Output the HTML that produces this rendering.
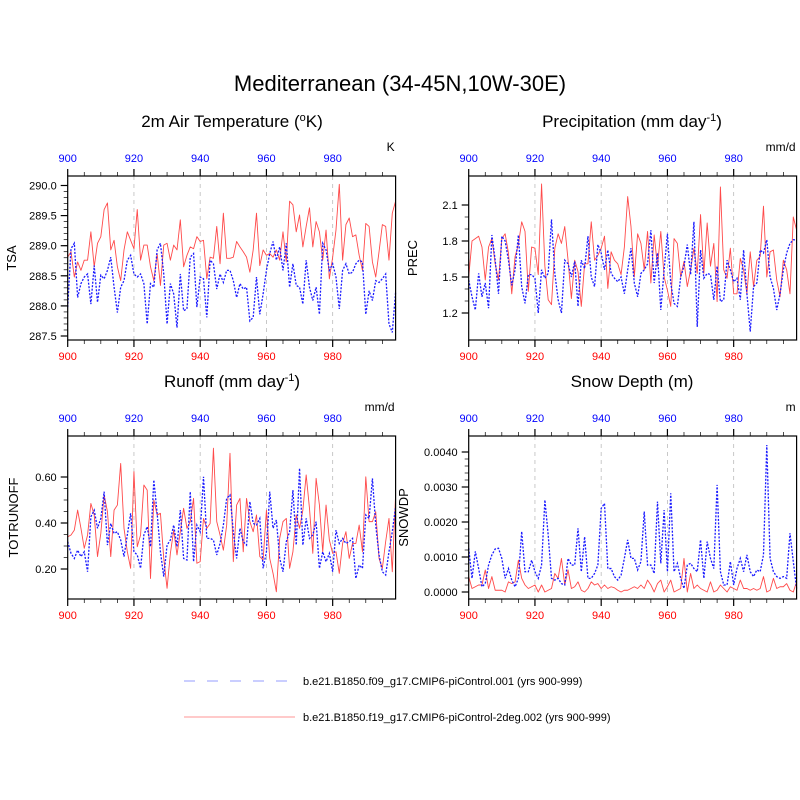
<!DOCTYPE html>
<html><head><meta charset="utf-8">
<style>
html,body{margin:0;padding:0;background:#fff;}
svg{display:block;font-family:"Liberation Sans",sans-serif;}
</style></head>
<body>
<svg id="chart" width="800" height="800" viewBox="0 0 800 800">
<rect width="800" height="800" fill="#fff"/>
<text x="400" y="91" font-size="22" text-anchor="middle">Mediterranean (34-45N,10W-30E)</text>
<text x="232" y="127" font-size="17" text-anchor="middle">2m Air Temperature (<tspan baseline-shift="super" font-size="11">o</tspan>K)</text>
<text x="632" y="127" font-size="17" text-anchor="middle">Precipitation (mm day<tspan baseline-shift="super" font-size="11">-1</tspan>)</text>
<text x="232" y="387" font-size="17" text-anchor="middle">Runoff (mm day<tspan baseline-shift="super" font-size="11">-1</tspan>)</text>
<text x="632" y="387" font-size="17" text-anchor="middle">Snow Depth (m)</text>
<g>
<line x1="184" y1="681" x2="292" y2="681" stroke="#aab0ff" stroke-width="1.3" stroke-dasharray="11,12"/>
<text x="303" y="685" font-size="11">b.e21.B1850.f09_g17.CMIP6-piControl.001 (yrs 900-999)</text>
<line x1="184" y1="717" x2="295" y2="717" stroke="#ffaaaa" stroke-width="1.3"/>
<text x="303" y="721" font-size="11">b.e21.B1850.f19_g17.CMIP6-piControl-2deg.002 (yrs 900-999)</text>
</g>
</svg>
<script>
const years = Array.from({length:100},(_, i)=>900+i);
const xTicks = [900,920,940,960,980];
const tsaRed = [288.81,288.90,288.48,288.73,288.59,288.76,288.76,289.23,288.65,289.04,
289.15,289.60,289.71,288.93,289.09,288.65,288.42,288.93,289.23,289.09,
288.95,289.60,288.76,289.01,289.01,288.65,288.42,288.87,288.34,289.01,
289.04,288.76,289.01,288.93,289.43,288.65,288.84,288.98,288.95,289.15,
289.07,289.09,288.45,288.81,288.79,289.32,288.70,289.54,288.79,288.79,
288.81,289.07,288.98,288.90,288.81,288.56,288.93,289.54,288.67,288.93,
288.84,288.87,288.81,288.93,288.76,289.23,288.73,289.74,289.68,289.23,
289.51,288.98,289.32,289.63,288.98,289.40,289.23,288.76,289.26,288.45,
288.81,289.26,290.02,288.76,289.35,289.46,289.15,289.18,288.84,288.59,
289.37,289.32,288.73,288.48,288.90,289.35,289.32,288.76,289.54,289.74];
const tsaBlue = [287.98,288.95,289.04,288.14,288.37,288.48,288.53,288.03,288.67,288.06,
288.51,288.45,288.59,288.81,288.31,287.89,288.31,288.42,288.76,288.84,
288.53,288.48,288.53,288.37,287.70,288.37,288.31,288.93,289.04,288.53,
287.70,288.37,288.20,287.64,288.53,287.92,287.95,288.81,288.87,287.98,
288.48,288.45,287.81,288.76,288.70,288.28,288.53,288.39,288.59,288.59,
288.42,288.14,288.37,288.28,288.31,287.75,287.81,288.48,287.86,288.20,
288.59,288.87,289.07,288.76,288.98,288.59,289.04,288.31,288.70,288.34,
288.31,288.03,288.76,288.31,288.09,288.31,287.86,289.04,288.93,288.59,
288.70,288.48,287.95,288.59,288.70,288.53,288.56,288.70,288.76,288.73,
287.86,288.25,288.09,288.42,288.39,288.45,288.53,287.70,287.56,288.23];
const tsaTicks = ["287.5","288.0","288.5","289.0","289.5","290.0"];
const precRed = [1.50,1.80,1.82,1.84,1.75,1.475,1.75,1.82,1.61,1.475,
1.82,1.86,1.70,1.36,1.67,1.77,1.96,1.88,1.38,1.75,
1.74,1.52,2.275,1.59,1.31,1.27,1.74,1.86,1.78,1.92,
1.64,1.32,1.64,1.545,1.255,1.61,1.61,1.96,1.64,1.68,
1.74,1.84,1.405,1.71,1.64,1.61,1.52,1.75,2.17,1.92,
1.50,1.86,1.78,1.56,1.88,1.45,1.85,1.59,1.88,1.50,
1.39,1.255,1.82,1.78,1.50,1.63,1.42,1.56,1.74,1.53,
2.02,1.53,1.95,1.59,1.78,1.295,2.25,1.56,1.49,1.74,
1.36,1.36,1.655,1.56,1.36,1.71,1.42,1.64,1.67,2.09,
1.50,1.71,1.725,1.475,1.335,1.64,1.56,1.36,2.00,1.89];
const precBlue = [1.475,1.335,1.225,1.53,1.335,1.45,1.24,1.85,1.64,1.36,
1.84,1.80,1.64,1.43,1.56,1.85,1.42,1.28,1.52,1.52,
1.49,1.20,1.56,1.49,1.53,1.98,1.53,1.31,1.20,1.64,
1.61,1.50,1.63,1.255,1.64,1.57,1.84,1.50,1.42,1.77,
1.70,1.56,1.725,1.53,1.49,1.46,1.50,1.36,1.56,1.74,
1.45,1.335,1.53,1.56,1.61,1.89,1.45,1.70,1.225,1.56,
1.86,1.45,1.28,1.255,1.50,1.59,1.77,1.52,1.96,1.085,
1.725,1.49,1.53,1.52,1.31,1.59,1.295,1.31,1.64,1.56,
1.46,1.49,1.31,1.725,1.36,1.045,1.42,1.45,1.725,1.70,
1.81,1.50,1.405,1.225,1.36,1.56,1.70,1.78,1.81,1.81];
const precTicks = ["1.2","1.5","1.8","2.1"];
const runRed = [0.340,0.348,0.369,0.456,0.377,0.290,0.348,0.485,0.435,0.254,
0.355,0.522,0.449,0.254,0.456,0.478,0.659,0.377,0.275,0.203,
0.623,0.297,0.348,0.565,0.543,0.159,0.500,0.435,0.442,0.246,
0.116,0.268,0.369,0.261,0.362,0.464,0.377,0.406,0.507,0.225,
0.232,0.420,0.377,0.398,0.725,0.406,0.348,0.282,0.391,0.703,
0.232,0.478,0.507,0.275,0.507,0.406,0.362,0.435,0.254,0.239,
0.456,0.246,0.181,0.101,0.333,0.406,0.420,0.203,0.275,0.435,
0.377,0.456,0.609,0.464,0.268,0.594,0.478,0.275,0.478,0.326,
0.268,0.275,0.181,0.311,0.362,0.246,0.311,0.311,0.391,0.275,
0.601,0.406,0.406,0.449,0.246,0.203,0.319,0.420,0.188,0.522];
const runBlue = [0.319,0.268,0.246,0.282,0.254,0.275,0.188,0.427,0.456,0.377,
0.420,0.536,0.304,0.398,0.355,0.362,0.326,0.254,0.348,0.442,
0.275,0.261,0.203,0.348,0.384,0.297,0.587,0.442,0.275,0.167,
0.304,0.326,0.391,0.297,0.456,0.246,0.239,0.536,0.232,0.391,
0.362,0.601,0.333,0.333,0.326,0.261,0.311,0.391,0.507,0.522,
0.362,0.246,0.377,0.319,0.304,0.493,0.398,0.391,0.420,0.203,
0.275,0.536,0.377,0.413,0.246,0.188,0.319,0.362,0.543,0.304,
0.638,0.304,0.420,0.333,0.348,0.406,0.203,0.275,0.232,0.268,
0.188,0.369,0.311,0.333,0.311,0.319,0.333,0.159,0.217,0.203,
0.435,0.420,0.594,0.391,0.261,0.188,0.174,0.275,0.362,0.471];
const runTicks = ["0.20","0.40","0.60"];
const snowBlue = [0.00125,0.00039,0.00116,0.00067,0.00015,0.00024,0.00077,0.00106,0.00123,0.00125,
0.00096,0.00039,0.00067,0.00034,0.00015,0.00039,0.00173,0.00058,0.00058,0.00091,
0.00058,0.00039,0.00077,0.00263,0.00163,0.00039,0.00034,0.00039,0.00024,0.00020,
0.00096,0.00077,0.00077,0.00182,0.00058,0.00158,0.00039,0.00039,0.00053,0.00077,
0.00239,0.00253,0.00067,0.00067,0.00044,0.00034,0.00048,0.00096,0.00149,0.00096,
0.00096,0.00063,0.00087,0.00230,0.00077,0.00077,0.00053,0.00258,0.00082,0.00234,
0.00058,0.00282,0.00058,0.00082,0.00039,0.00010,0.00077,0.00082,0.00067,0.00058,
0.00149,0.00039,0.00144,0.00096,0.00067,0.00306,0.00058,0.00020,0.00020,0.00087,
0.00020,0.00067,0.00096,0.00058,0.00106,0.00058,0.00044,0.00063,0.00058,0.00106,
0.00420,0.00096,0.00058,0.00044,0.00039,0.00044,0.00039,0.00168,0.00087,0.00010];
const snowRed = [0.00044,0.00010,0.00015,0.00020,0.00020,0.00063,0.00010,0.00044,0.00005,0.00005,
0.00005,0.00000,0.00029,0.00024,0.00029,0.00091,0.00039,0.00020,0.00010,0.00015,
0.00020,0.00000,0.00020,0.00000,0.00005,0.00010,0.00053,0.00039,0.00096,0.00020,
0.00063,0.00010,0.00015,0.00029,0.00005,0.00000,0.00010,0.00029,0.00020,0.00024,
0.00010,0.00020,0.00010,0.00015,0.00012,0.00005,0.00000,0.00005,0.00005,0.00010,
0.00015,0.00010,0.00020,0.00010,0.00034,0.00020,0.00000,0.00024,0.00034,0.00000,
0.00015,0.00034,0.00000,0.00005,0.00010,0.00096,0.00000,0.00053,0.00010,0.00020,
0.00010,0.00005,0.00000,0.00029,0.00000,0.00005,0.00020,0.00010,0.00000,0.00015,
0.00010,0.00005,0.00034,0.00010,0.00010,0.00005,0.00010,0.00005,0.00010,0.00044,
0.00000,0.00005,0.00039,0.00010,0.00015,0.00015,0.00024,0.00005,0.00000,0.00029];
const snowTicks = ["0.0000","0.0010","0.0020","0.0030","0.0040"];

const NS="http://www.w3.org/2000/svg";
const svg=document.getElementById('chart');
function mk(tag,attrs,parent){const e=document.createElementNS(NS,tag);for(const k in attrs)e.setAttribute(k,attrs[k]);(parent||svg).appendChild(e);return e;}

function panel(cfg){
  const g=mk('g',{});
  
  
  const L=cfg.x0,R=cfg.x1,T=cfg.y0,B=cfg.y1;
  const xs=v=>L+(v-900)/(999-900)*(R-L);
  const ys=v=>cfg.py0+(v-cfg.v0)/(cfg.v1-cfg.v0)*(cfg.py1-cfg.py0);
  xTicks.slice(1).forEach(t=>{
    const l=mk('line',{x1:xs(t),x2:xs(t),y1:T,y2:B,stroke:'#bbb','stroke-width':0.8,'stroke-dasharray':'4,4'},g);
    
    
  });
  function series(vals,style,nm){
    const d=vals.map((v,i)=>(i?'L':'M')+xs(years[i]).toFixed(2)+','+ys(v).toFixed(2)).join('');
    const p=mk('path',Object.assign({d:d,fill:'none'},style),g);
    
    
  }
  series(cfg.red,{stroke:'#ff4a4a','stroke-width':0.9,'stroke-linejoin':'round'},cfg.name+'-red-line');
  series(cfg.blue,{stroke:'#1a1aff','stroke-width':1.3,'stroke-dasharray':'2,1.5'},cfg.name+'-blue-line');
  const fr=mk('rect',{x:L,y:T,width:R-L,height:B-T,fill:'none',stroke:'#000','stroke-width':1.2},g);
  
  
  for(let yr=900;yr<=995;yr+=5){
    const major=yr%20===0;const len=major?7:4;
    mk('line',{x1:xs(yr),x2:xs(yr),y1:T,y2:T-len,stroke:'#000','stroke-width':major?1.2:0.7},g);
    mk('line',{x1:xs(yr),x2:xs(yr),y1:B,y2:B+len,stroke:'#000','stroke-width':major?1.2:0.7},g);
  }
  xTicks.forEach(t=>{
    const a=mk('text',{x:xs(t),y:T-14,'font-size':11,fill:'#0000ff','text-anchor':'middle'},g);
    a.textContent=t;
    
    
    const b=mk('text',{x:xs(t),y:B+20,'font-size':11,fill:'#ff0000','text-anchor':'middle'},g);
    b.textContent=t;
    
    
  });
  const n=Math.round((cfg.v1-cfg.v0)/cfg.minor);
  for(let i=0;i<=n;i++){
    const v=cfg.v0+i*cfg.minor;const y=ys(v);
    if(y<T-0.5||y>B+0.5)continue;
    mk('line',{x1:L,x2:L-4,y1:y,y2:y,stroke:'#000','stroke-width':0.7},g);
  }
  cfg.ticks.forEach(t=>{
    const y=ys(parseFloat(t));
    mk('line',{x1:L,x2:L-7,y1:y,y2:y,stroke:'#000','stroke-width':1.2},g);
    const tx=mk('text',{x:L-11,y:y+4,'font-size':11,'text-anchor':'end'},g);
    tx.textContent=t;
    
    
  });
  const yl=mk('text',{x:0,y:0,'font-size':13,'text-anchor':'middle',transform:`translate(${cfg.ylx},${(T+B)/2}) rotate(-90)`},g);
  yl.textContent=cfg.ylabel;
  
  
  const u=mk('text',{x:R-1,y:T-25,'font-size':12,'text-anchor':'end'},g);
  u.textContent=cfg.unit;
  
  
}
panel({name:'tsa',x0:67.7,x1:395.6,y0:176,y1:340,red:tsaRed,blue:tsaBlue,v0:287.5,v1:290.0,py0:336,py1:185.5,ticks:tsaTicks,minor:0.1,ylabel:'TSA',ylx:16,unit:'K'});
panel({name:'prec',x0:468.7,x1:796.6,y0:176,y1:340,red:precRed,blue:precBlue,v0:1.2,v1:2.1,py0:313,py1:205,ticks:precTicks,minor:0.1,ylabel:'PREC',ylx:417,unit:'mm/d'});
panel({name:'runoff',x0:67.7,x1:395.6,y0:436,y1:599,red:runRed,blue:runBlue,v0:0.2,v1:0.6,py0:569,py1:477,ticks:runTicks,minor:0.05,ylabel:'TOTRUNOFF',ylx:18,unit:'mm/d'});
panel({name:'snow',x0:468.7,x1:796.6,y0:436,y1:599,red:snowRed,blue:snowBlue,v0:0,v1:0.004,py0:592,py1:452,ticks:snowTicks,minor:0.0002,ylabel:'SNOWDP',ylx:408,unit:'m'});
</script>
</body></html>
